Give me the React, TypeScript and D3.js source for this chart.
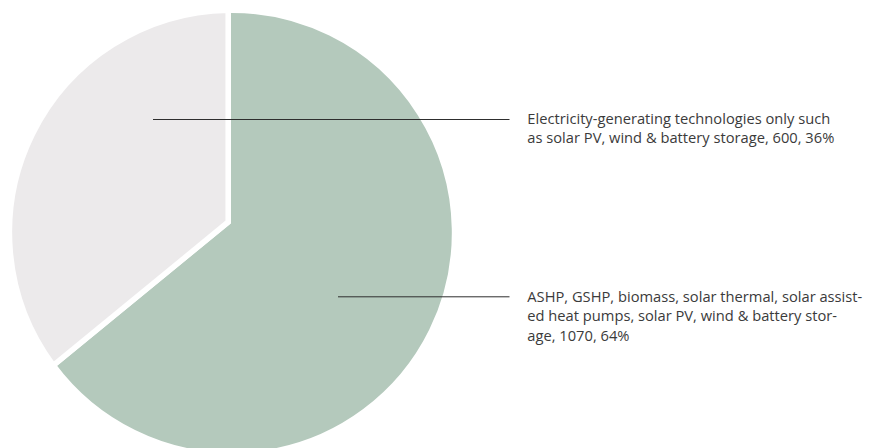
import React from "react";
import * as d3 from "d3";

// Heating-technology mix: number of installations per group
const categories = ["heat-and-power", "electricity-only"];
const values = [1070, 600];
const colors = ["#b4c9bc", "#eceaeb"];
// Label text per slice (value and share are appended to the last line)
const labelLines = [
  [
    "ASHP, GSHP, biomass, solar thermal, solar assist-",
    "ed heat pumps, solar PV, wind & battery stor-",
    "age",
  ],
  [
    "Electricity-generating technologies only such",
    "as solar PV, wind & battery storage",
  ],
];

const W = 875;
const H = 448;

// Outer circle and the point where the slices meet
const center = { x: 232, y: 232.7 };
const visibleRadius = 219.8;
const gap = 5.5;
const R = visibleRadius + gap / 2;
const apex = { x: 228.2, y: 222 };

// Label layout
const textX = 527.3;
const leaderEndX = 509.5;
const lineHeight = 19.4;
const labelLayout = [
  { anchorX: 338, leaderY: 296.8, firstBaseline: 302 },
  { anchorX: 153, leaderY: 119.5, firstBaseline: 124 },
];

// Where a ray leaving the apex at pie angle a meets the outer circle
function hit(a: number) {
  const dx = Math.sin(a);
  const dy = -Math.cos(a);
  const wx = apex.x - center.x;
  const wy = apex.y - center.y;
  const b = wx * dx + wy * dy;
  const c = wx * wx + wy * wy - R * R;
  const t = -b + Math.sqrt(b * b - c);
  return { x: apex.x + t * dx, y: apex.y + t * dy };
}

function slicePath(a0: number, a1: number) {
  const p0 = hit(a0);
  const p1 = hit(a1);
  const phi0 = Math.atan2(p0.y - center.y, p0.x - center.x);
  const phi1 = Math.atan2(p1.y - center.y, p1.x - center.x);
  const p = d3.path();
  p.moveTo(apex.x, apex.y);
  p.lineTo(p0.x, p0.y);
  p.arc(center.x, center.y, R, phi0, phi1, false);
  p.closePath();
  return p.toString();
}

export default function App() {
  const pie = d3
    .pie<number>()
    .sort(null)
    .value((d) => d);
  const arcs = pie(values);
  const total = d3.sum(values);
  const fmtPct = (v: number) => `${Math.round((v / total) * 100)}%`;

  return (
    <svg
      width={W}
      height={H}
      viewBox={`0 0 ${W} ${H}`}
      style={{ position: "absolute", left: 0, top: 0, background: "#ffffff" }}
    >
      <g>
        {arcs.map((a, i) => (
          <path
            key={categories[i]}
            d={slicePath(a.startAngle, a.endAngle)}
            fill={colors[i]}
            stroke="#ffffff"
            strokeWidth={gap}
            strokeLinejoin="miter"
          />
        ))}
      </g>
      <g
        fontFamily="'Open Sans', 'Noto Sans', sans-serif"
        fontSize={14.7}
        fill="#3b3b3b"
      >
        {arcs.map((a, i) => {
          const lay = labelLayout[i];
          const lines = labelLines[i].slice();
          const last = lines.length - 1;
          lines[last] = `${lines[last]}, ${values[i]}, ${fmtPct(values[i])}`;
          return (
            <g key={categories[i]}>
              <line
                x1={lay.anchorX}
                x2={leaderEndX}
                y1={lay.leaderY}
                y2={lay.leaderY}
                stroke="#2e2e2e"
                strokeWidth={1}
              />
              {lines.map((t, j) => (
                <text key={j} x={textX} y={lay.firstBaseline + j * lineHeight}>
                  {t}
                </text>
              ))}
            </g>
          );
        })}
      </g>
    </svg>
  );
}
